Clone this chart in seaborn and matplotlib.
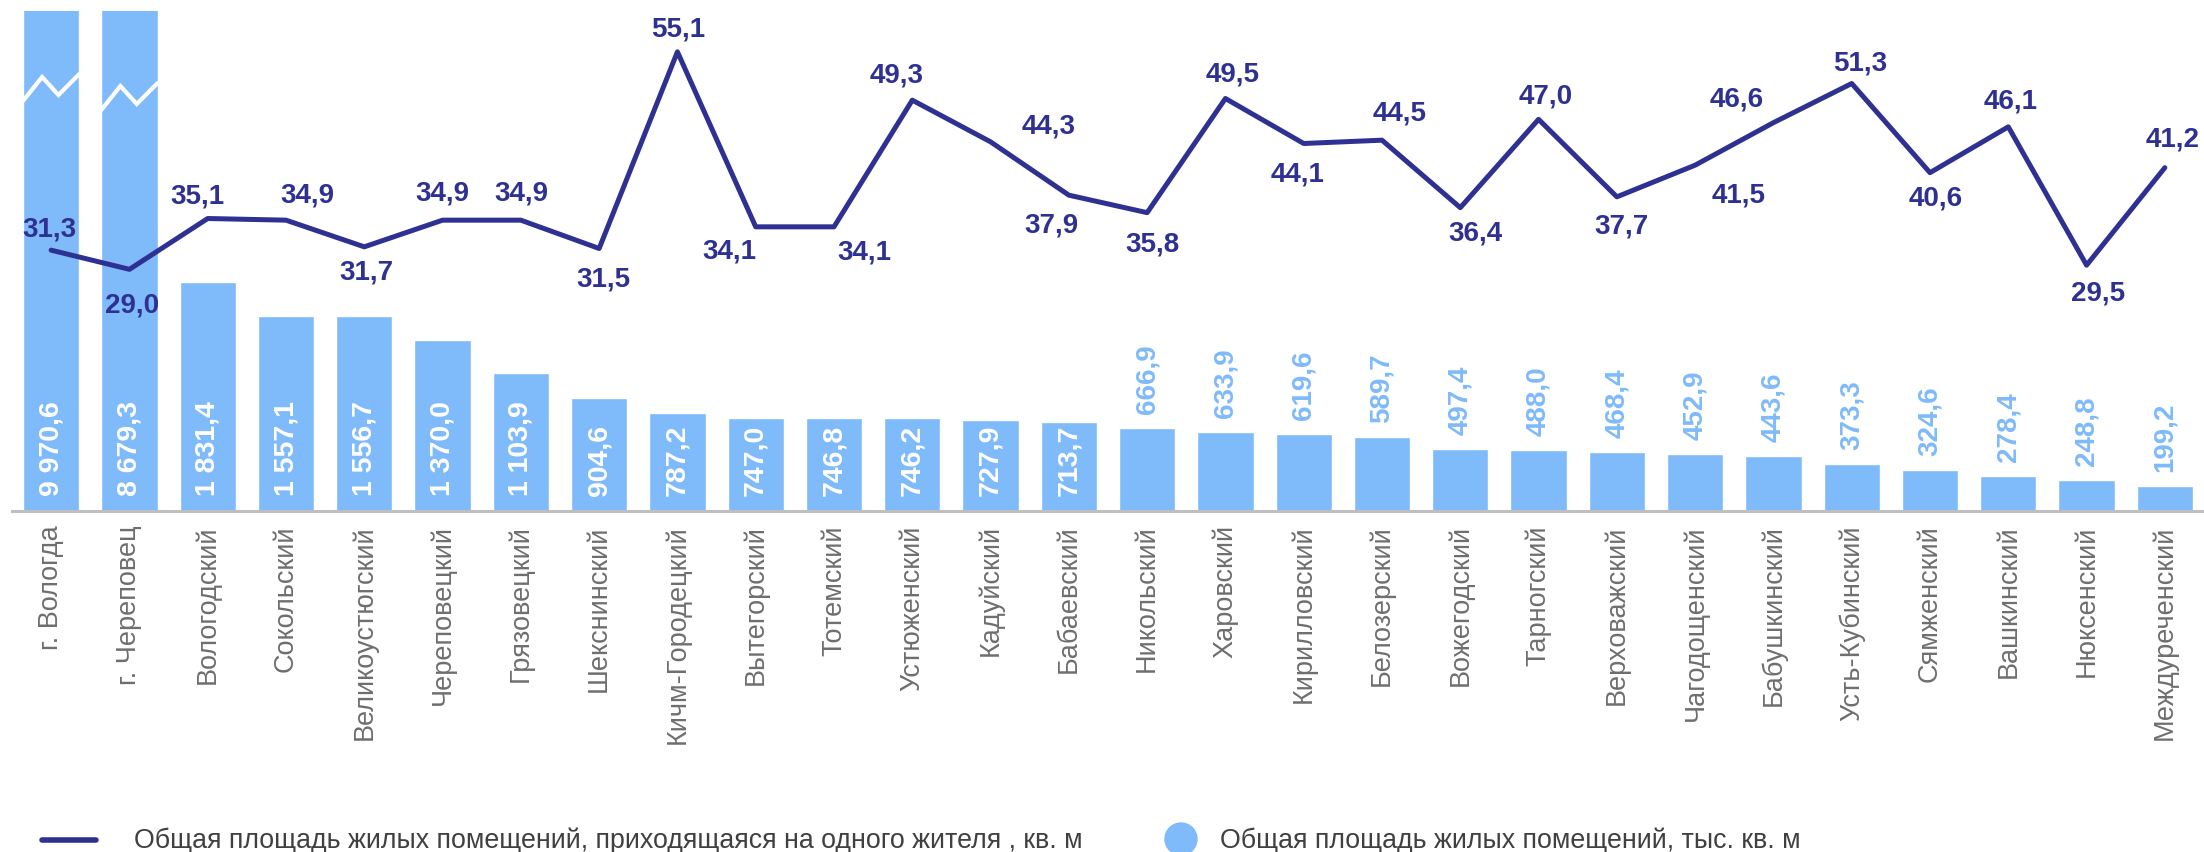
import numpy as np
import pandas as pd
import matplotlib
matplotlib.use('Agg')
import matplotlib.pyplot as plt
import seaborn as sns
from matplotlib.lines import Line2D
from matplotlib.patches import Circle

# ---------------- data ----------------
categories = [
    "г. Вологда", "г. Череповец", "Вологодский", "Сокольский", "Великоустюгский",
    "Череповецкий", "Грязовецкий", "Шекснинский", "Кичм-Городецкий", "Вытегорский",
    "Тотемский", "Устюженский", "Кадуйский", "Бабаевский", "Никольский",
    "Харовский", "Кирилловский", "Белозерский", "Вожегодский", "Тарногский",
    "Верховажский", "Чагодощенский", "Бабушкинский", "Усть-Кубинский", "Сямженский",
    "Вашкинский", "Нюксенский", "Междуреченский",
]
area_total = [
    9970.6, 8679.3, 1831.4, 1557.1, 1556.7, 1370.0, 1103.9, 904.6, 787.2, 747.0,
    746.8, 746.2, 727.9, 713.7, 666.9, 633.9, 619.6, 589.7, 497.4, 488.0,
    468.4, 452.9, 443.6, 373.3, 324.6, 278.4, 248.8, 199.2,
]
area_per_capita = [
    31.3, 29.0, 35.1, 34.9, 31.7, 34.9, 34.9, 31.5, 55.1, 34.1,
    34.1, 49.3, 44.3, 37.9, 35.8, 49.5, 44.1, 44.5, 36.4, 47.0,
    37.7, 41.5, 46.6, 51.3, 40.6, 46.1, 29.5, 41.2,
]
legend_line = "Общая площадь жилых помещений, приходящаяся на одного жителя , кв. м"
legend_bar = "Общая площадь жилых помещений, тыс. кв. м"

# label placement offsets for the line labels (pixels: right, down)
line_label_offsets = [
    (-2, -22), (3, 35), (-10, -23), (21, -26), (2, 25), (0, -28), (0, -28),
    (4, 30), (1, -23), (-26, 24), (30, 25), (-16, -26), (58, -16), (-17, 29),
    (5, 31), (7, -25), (-6, 30), (18, -28), (15, 25), (7, -24), (5, 29),
    (43, 29), (-37, -24), (8, -21), (6, 25), (2, -26), (11, 27), (8, -29),
]

BAR = "#7FBAFA"
NAVY = "#2E3192"
W, H = 2204, 853


def fmt(v):
    return f"{v:,.1f}".replace(",", " ").replace(".", ",")


sns.set_theme(style="white")
plt.rcParams["font.family"] = ["Liberation Sans", "DejaVu Sans"]

fig = plt.figure(figsize=(W / 100, H / 100), dpi=100)
ax = fig.add_axes([12 / W, 1 - 512 / H, (W - 12) / W, 500 / H])

df = pd.DataFrame({"cat": categories, "area": area_total})
sns.barplot(data=df, x="cat", y="area", color=BAR, saturation=1, width=0.72,
            ax=ax, zorder=2)
n = len(categories)
ax.set_xlim(-0.5, n - 0.5)
ax.set_ylim(0, 4000)
ax.set_xlabel("")
ax.set_ylabel("")
ax.set_yticks([])
for s in ["top", "left", "right"]:
    ax.spines[s].set_visible(False)
ax.spines["bottom"].set_color("#BFBFBF")
ax.spines["bottom"].set_linewidth(2.2)
ax.tick_params(axis="x", length=0, pad=9.5, labelsize=19.5, labelcolor="#6E6E6E",
               rotation=90)

# bar value labels
for i, (p, v) in enumerate(zip(ax.patches, area_total)):
    xc = p.get_x() + p.get_width() / 2
    if v >= 700:
        ax.annotate(fmt(v), (xc, 0), xytext=(0, 16), textcoords="offset pixels",
                    rotation=90, ha="center", va="bottom", color="white",
                    fontsize=20.5, fontweight="bold", zorder=4)
    else:
        ax.annotate(fmt(v), (xc, v), xytext=(0, 15), textcoords="offset pixels",
                    rotation=90, ha="center", va="bottom", color=BAR,
                    fontsize=20, fontweight="bold", zorder=4)

# break marks on the two truncated bars
zig_fx = [0, 0.34, 0.63, 1.0]
zig_dy = [0, -24, -6, -27]
zig_start = [102, 111]
for k in range(2):
    p = ax.patches[k]
    xs = [p.get_x() + f * p.get_width() for f in zig_fx]
    ys = [(512 - (zig_start[k] + d)) / 500 for d in zig_dy]
    ax.plot(xs, ys, transform=ax.get_xaxis_transform(), color="white", lw=3,
            solid_joinstyle="miter", zorder=3)

# line on secondary axis
ax2 = ax.twinx()
sns.lineplot(x=np.arange(n), y=area_per_capita, ax=ax2, color=NAVY, lw=3.6,
             sort=False)
ax2.set_ylim(0, 60)
ax2.set_xlim(-0.5, n - 0.5)
ax2.set_yticks([])
ax2.set_ylabel("")
for s in ["top", "left", "right", "bottom"]:
    ax2.spines[s].set_visible(False)
for i, v in enumerate(area_per_capita):
    dx, dy = line_label_offsets[i]
    ax2.annotate(fmt(v), (i, v), xytext=(dx, -dy), textcoords="offset pixels",
                 ha="center", va="center", color=NAVY, fontsize=20,
                 fontweight="bold")

# legend (drawn manually at the bottom)
ly = 1 - 841 / H
fig.add_artist(Line2D([42 / W, 96 / W], [ly, ly], color=NAVY, lw=4,
                      transform=fig.transFigure))
fig.text(134 / W, ly, legend_line, fontsize=19.3, color="#404040",
         va="center", ha="left")
fig.add_artist(Circle((1181 / 100, (H - 840) / 100), 16 / 100,
                      transform=fig.dpi_scale_trans, color=BAR))
fig.text(1220 / W, ly, legend_bar, fontsize=19.3, color="#404040",
         va="center", ha="left")

fig.savefig("out.png", dpi=100)
